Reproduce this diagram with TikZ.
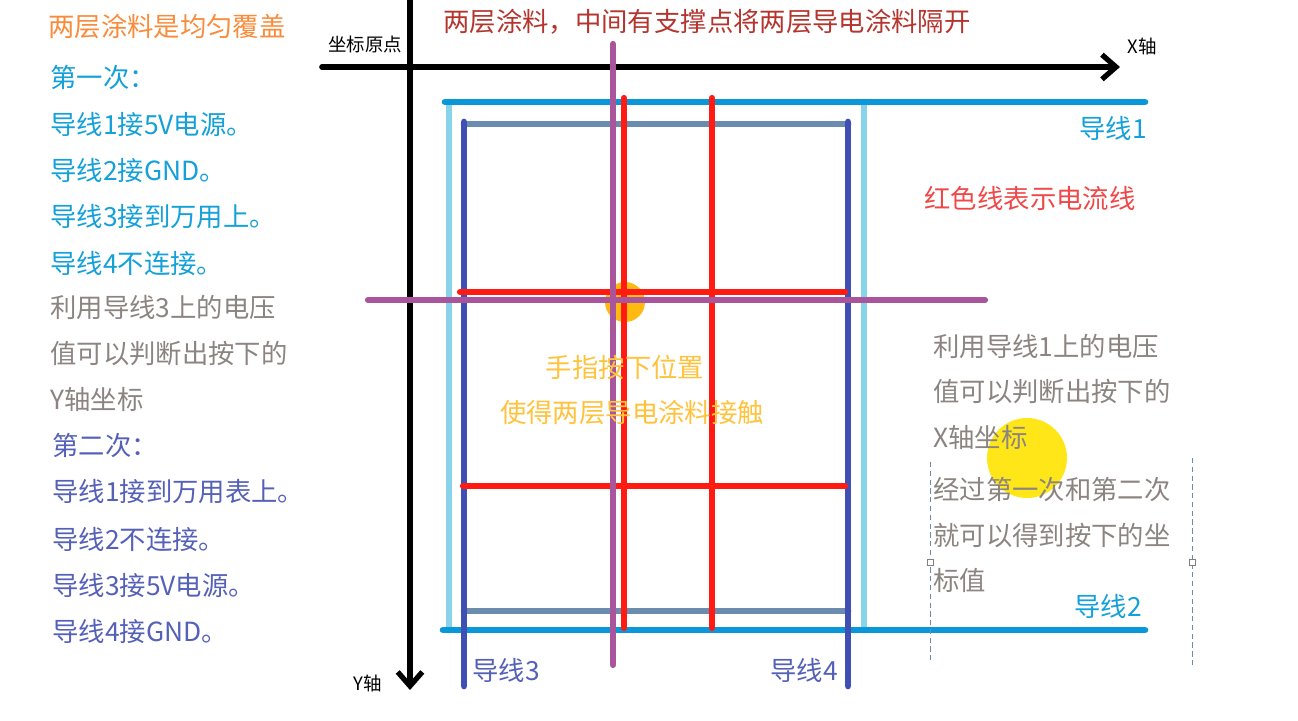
\documentclass[tikz,border=0pt]{standalone}
\usepackage{fontspec}
\setmainfont{Noto Sans CJK SC}
\usetikzlibrary{arrows.meta}
\definecolor{wireblue}{HTML}{0A97D9}
\definecolor{lightwire}{HTML}{86D3EA}
\definecolor{darkwire}{HTML}{3F4FB3}
\definecolor{greywire}{HTML}{6B8CAE}
\definecolor{currentred}{HTML}{FF1A12}
\definecolor{pressline}{HTML}{A8559B}
\definecolor{spot}{HTML}{FFBA12}
\definecolor{hilite}{HTML}{FFE619}
\definecolor{titlered}{HTML}{B3352E}
\definecolor{notecyan}{HTML}{14A0D8}
\definecolor{notegrey}{HTML}{8C8480}
\definecolor{noteindigo}{HTML}{5561B8}
\definecolor{noteorange}{HTML}{F98B3A}
\definecolor{notegold}{HTML}{FFC23C}
\definecolor{notered}{HTML}{F04848}

\begin{document}
\begin{tikzpicture}[x=0.02cm,y=-0.02cm,
    txt/.style={font=\fontsize{15}{18}\selectfont,inner sep=0pt},
    small/.style={font=\fontsize{10.5}{12}\selectfont,inner sep=0pt},
    axis/.style={line width=3.2pt,line cap=round,-{Straight Barb[length=8pt,width=14pt,line width=3pt]}},
    wire/.style={line width=3.8pt,line cap=round},
    trace/.style={line width=3.5pt,line cap=round}]
    \useasboundingbox (0,0) rectangle (1298,720);

    % finger spot and cursor highlight
    \fill[spot] (625,302) circle (20);
    \fill[hilite] (1027,458) circle (40);

    % axes
    \draw[axis] (322,67) -- (1120,67);
    \draw[axis] (410,0) -- (410,690);
    \node[small] (origin) at (365,44) {坐标原点};
    \node[small] (xname) at (1142,46) {X轴};
    \node[small] (yname) at (368,683) {Y轴};

    % lower coating
    \draw[wire,lightwire] (449,102) -- (449,630);
    \draw[wire,lightwire] (864,102) -- (864,630);
    \draw[wire,wireblue] (445,102) -- (1145,102);
    \draw[wire,wireblue] (443,630) -- (1145,630);

    % upper coating
    \draw[wire,greywire] (464,124) -- (848,124);
    \draw[wire,greywire] (464,611) -- (848,611);
    \draw[wire,darkwire] (464,122) -- (464,686);
    \draw[wire,darkwire] (848,122) -- (848,686);

    % current lines
    \draw[trace,currentred] (624,98) -- (624,628);
    \draw[trace,currentred] (712,98) -- (712,628);
    \draw[trace,currentred] (460,292) -- (845,292);
    \draw[trace,currentred] (463,486) -- (845,486);

    % press position
    \draw[trace,pressline] (613,44) -- (613,665);
    \draw[trace,pressline] (368,300) -- (985,300);

    % wire names
    \node[txt,notecyan,anchor=east] (w1) at (1147,128) {导线1};
    \node[txt,notecyan,anchor=east] (w2) at (1142,606) {导线2};
    \node[txt,noteindigo,anchor=west] (w3) at (472,670) {导线3};
    \node[txt,noteindigo,anchor=east] (w4) at (838,670) {导线4};

    % notes
    \node[txt,titlered] (title) at (707,22) {两层涂料，中间有支撑点将两层导电涂料隔开};
    \node[txt,notered] (rednote) at (1030,198) {红色线表示电流线};
    \node[txt,notegold] (press1) at (625,367) {手指按下位置};
    \node[txt,notegold] (press2) at (632,413) {使得两层导电涂料接触};

    \node[txt,noteorange,anchor=west] (even) at (48,27) {两层涂料是均匀覆盖};
    \foreach \y/\t [count=\i] in {77/第一次：,124/导线1接5V电源。,170/导线2接GND。,217/导线3接到万用上。,263/导线4不连接。}
        \node[txt,notecyan,anchor=west] (first\i) at (50,\y) {\t};
    \foreach \y/\t [count=\i] in {307/利用导线3上的电压,353/值可以判断出按下的,399/Y轴坐标}
        \node[txt,notegrey,anchor=west] (ynote\i) at (50,\y) {\t};
    \foreach \y/\t [count=\i] in {445/第二次：,492/导线1接到万用表上。,539/导线2不连接。,585/导线3接5V电源。,631/导线4接GND。}
        \node[txt,noteindigo,anchor=west] (second\i) at (52,\y) {\t};
    \foreach \y/\t [count=\i] in {346/利用导线1上的电压,391/值可以判断出按下的,437/X轴坐标,489/经过第一次和第二次,535/就可以得到按下的坐,580/标值}
        \node[txt,notegrey,anchor=west] (xnote\i) at (933,\y) {\t};

    % selection frame
    \draw[densely dashed,thin,greywire] (930,462) -- (930,660);
    \draw[densely dashed,thin,greywire] (1192,458) -- (1192,665);
    \draw[fill=white,draw=gray] (927,559) rectangle (933,565);
    \draw[fill=white,draw=gray] (1189,559) rectangle (1195,565);
\end{tikzpicture}
\end{document}
